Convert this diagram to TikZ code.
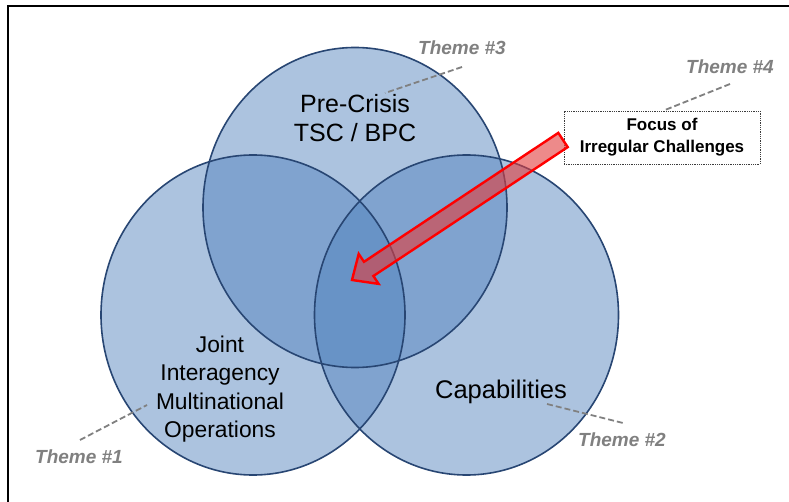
\documentclass[tikz,border=0pt]{standalone}
\usepackage{fontspec}
\setmainfont{Liberation Sans}
\setsansfont{Liberation Sans}
\begin{document}
\begin{tikzpicture}[x=1pt,y=-1pt,
  circfill/.style={fill={rgb,255:red,79;green,129;blue,189},fill opacity=0.47,draw=none},
  circedge/.style={draw={rgb,255:red,40;green,70;blue,115},line width=1.6pt},
  themelbl/.style={text={rgb,255:red,128;green,128;blue,128},font=\fontsize{19}{22}\selectfont\bfseries\itshape,inner sep=0pt},
  leader/.style={draw={rgb,255:red,128;green,128;blue,128},line width=1.8pt,dash pattern=on 6pt off 3pt},
  circlbl/.style={align=center,text=black,inner sep=0pt},
  focusbox/.style={draw={rgb,255:red,60;green,60;blue,60},densely dotted,line width=0.8pt,fill=white,minimum width=196pt,minimum height=53pt,align=center,font=\fontsize{17}{22}\selectfont\bfseries,inner sep=0pt},
  redarrow/.style={draw={rgb,255:red,255;green,0;blue,0},line width=2.4pt,line join=miter,fill={rgb,255:red,225;green,60;blue,60},fill opacity=0.6}
]
\useasboundingbox (0,0) rectangle (789,502);
\fill[white] (0,0) rectangle (789,502);
% frame
\draw[line width=2pt,black] (8,502) -- (8,6) -- (789,6);

% circles
\coordinate (ctop) at (355,207.5);
\coordinate (cleft) at (253,315);
\coordinate (cright) at (466.5,315);
\path[circfill] (ctop) ellipse [x radius=152, y radius=160];
\path[circfill] (cleft) ellipse [x radius=152, y radius=160];
\path[circfill] (cright) ellipse [x radius=152, y radius=160];
\path[circedge] (ctop) ellipse [x radius=152, y radius=160];
\path[circedge] (cleft) ellipse [x radius=152, y radius=160];
\path[circedge] (cright) ellipse [x radius=152, y radius=160];

% circle labels
\node[circlbl,font=\fontsize{25}{29}\selectfont] (precrisis) at (355,118) {Pre-Crisis\\TSC / BPC};
\node[circlbl,font=\fontsize{22.8}{28.3}\selectfont] (jimo) at (220,389) {Joint\\Interagency\\Multinational\\Operations};
\node[circlbl,font=\fontsize{25.5}{29}\selectfont] (capab) at (501,392) {Capabilities};

% theme labels and leaders
\node[themelbl] (t3) at (462,48) {Theme \#3};
\coordinate (t3a) at (462,67);
\coordinate (t3b) at (385,93);
\draw[leader] (t3a) -- (t3b);

\node[themelbl] (t4) at (730,67) {Theme \#4};
\coordinate (t4a) at (730,84);
\coordinate (t4b) at (665,110);
\draw[leader] (t4a) -- (t4b);

\node[themelbl] (t1) at (79,457) {Theme \#1};
\coordinate (t1a) at (80,440);
\coordinate (t1b) at (147,405);
\draw[leader] (t1a) -- (t1b);

\node[themelbl] (t2) at (622,440) {Theme \#2};
\coordinate (t2a) at (547,404);
\coordinate (t2b) at (623,423);
\draw[leader] (t2a) -- (t2b);

% focus box
\node[focusbox] (focus) at (662,137.5) {Focus of\\Irregular Challenges};

% red arrow
\coordinate (tip) at (352,280);
\coordinate (h1) at (378.6,283.9);
\coordinate (s1) at (373.4,276.0);
\coordinate (e1) at (567.7,147.1);
\coordinate (e2) at (558.3,132.9);
\coordinate (s2) at (364.0,261.8);
\coordinate (h2) at (358.7,253.9);
\path[redarrow] (tip) -- (h1) -- (s1) -- (e1) -- (e2) -- (s2) -- (h2) -- cycle;
\end{tikzpicture}
\end{document}
